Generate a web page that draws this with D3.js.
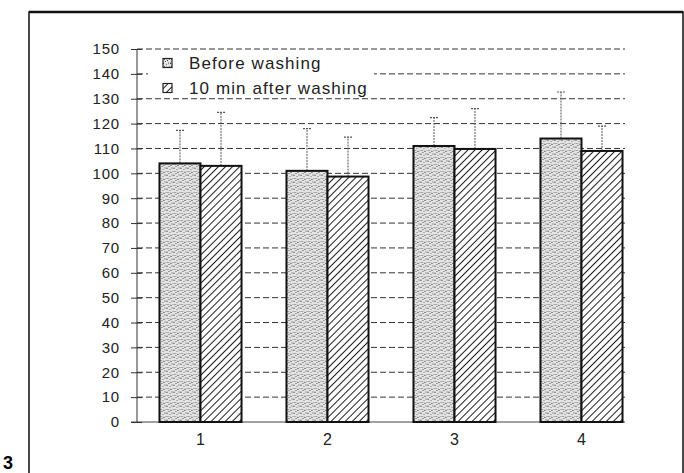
<!DOCTYPE html>
<html>
<head>
<meta charset="utf-8">
<script src="https://cdn.jsdelivr.net/npm/d3@7"></script>
<style>
  body { margin: 0; background: #fff; }
  text { font-family: "Liberation Sans", Arial, sans-serif; fill: #222; }
</style>
</head>
<body>
<svg></svg>
<script>
const width = 684
const height = 473
const groups = ['1', '2', '3', '4']
const seriesNames = ['Before washing', '10 min after washing']
const beforeValues = [104, 101, 111, 114]
const afterValues = [103, 98.7, 109.8, 109]
const beforeErr = [13.3, 17, 11.4, 18.7]
const afterErr = [21.5, 15.9, 16.2, 10]
const yTicks = d3.range(0, 151, 10)

const data = []
groups.forEach((g, i) => {
  data.push({ group: g, series: seriesNames[0], value: beforeValues[i], err: beforeErr[i] })
  data.push({ group: g, series: seriesNames[1], value: afterValues[i], err: afterErr[i] })
})

const svg = d3.select('svg')
  .attr('width', width)
  .attr('height', height)

const defs = svg.append('defs')

// stipple for "before" (fixed dot layout, looks like the printed screen)
const stip = defs.append('pattern')
  .attr('id', 'stipple')
  .attr('patternUnits', 'userSpaceOnUse')
  .attr('width', 7).attr('height', 7)
stip.append('rect').attr('width', 7).attr('height', 7).attr('fill', '#e4e4e4')
const dots = [[0, 0, '#444'], [3, 1, '#777'], [5, 0, '#999'], [1, 3, '#666'], [4, 4, '#333'],
              [6, 3, '#888'], [2, 5, '#555'], [5, 6, '#999'], [0, 6, '#aaa'], [3, 3, '#bbb']]
stip.selectAll('rect.dot')
  .data(dots)
  .join('rect')
  .classed('dot', true)
  .attr('x', d => d[0]).attr('y', d => d[1])
  .attr('width', 1).attr('height', 1)
  .attr('fill', d => d[2])

// hatch for "after"
const hatch = defs.append('pattern')
  .attr('id', 'hatch')
  .attr('patternUnits', 'userSpaceOnUse')
  .attr('width', 5).attr('height', 5)
  .attr('patternTransform', 'rotate(45)')
hatch.append('rect').attr('width', 5).attr('height', 5).attr('fill', '#fff')
hatch.append('line')
  .attr('x1', 0).attr('y1', 0).attr('x2', 0).attr('y2', 5)
  .attr('stroke', '#111').attr('stroke-width', 1.9)

const fills = { 'Before washing': 'url(#stipple)', '10 min after washing': 'url(#hatch)' }

// outer frame
svg.append('rect')
  .attr('x', 29).attr('y', 12)
  .attr('width', 654).attr('height', 480)
  .attr('fill', 'none')
  .attr('stroke', '#111')
  .attr('stroke-width', 1.5)
svg.append('line')
  .attr('x1', 29).attr('x2', 683).attr('y1', 12).attr('y2', 12)
  .attr('stroke', '#111').attr('stroke-width', 2.5)

svg.append('text')
  .attr('x', 3).attr('y', 469)
  .style('font-size', '18px')
  .style('font-weight', 'bold')
  .style('fill', '#000')
  .text('3')

const y = d3.scaleLinear().domain([0, 150]).range([422, 49])
const x = d3.scaleBand()
  .domain(groups)
  .range([137, 645])
  .paddingInner(0.354)
  .paddingOuter(0.177)
const xs = d3.scaleBand().domain(seriesNames).range([0, x.bandwidth()])
const plotRight = 625

// gridlines
svg.selectAll('.grid')
  .data(yTicks.filter(d => d > 0))
  .join('line')
  .classed('grid', true)
  .attr('x1', 137).attr('x2', plotRight)
  .attr('y1', d => y(d)).attr('y2', d => y(d))
  .attr('stroke', '#333')
  .attr('stroke-width', 1)
  .attr('stroke-dasharray', '6,3')

// baseline
svg.append('line')
  .attr('x1', 131).attr('x2', plotRight)
  .attr('y1', y(0)).attr('y2', y(0))
  .attr('stroke', '#444').attr('stroke-width', 1.2)

// y axis
const yAxis = svg.append('g')
  .attr('transform', 'translate(137,0)')
  .call(d3.axisLeft(y).tickValues(yTicks).tickSize(6).tickPadding(11))
yAxis.select('.domain').attr('stroke', '#333').attr('d', `M0,${y(0)}V${y(150)}`)
yAxis.selectAll('.tick line').attr('stroke', '#333').attr('x2', 5).attr('x1', -6)
yAxis.selectAll('.tick text')
  .style('font-size', '15px')
  .style('letter-spacing', '0.8px')
  .style('font-family', '"Liberation Sans", Arial, sans-serif')
  .attr('fill', '#222')

// legend background
svg.append('rect')
  .attr('x', 148).attr('y', 53)
  .attr('width', 226).attr('height', 43)
  .attr('fill', '#fff')

const legend = svg.selectAll('.legend')
  .data(seriesNames)
  .join('g')
  .classed('legend', true)
  .attr('transform', (d, i) => `translate(163, ${63 + i * 25})`)
legend.append('rect')
  .attr('x', 0).attr('y', -4.5)
  .attr('width', 9).attr('height', 9)
  .attr('fill', d => fills[d])
  .attr('stroke', '#222')
  .attr('stroke-width', 1.2)
legend.append('text')
  .attr('x', 26).attr('dy', '0.36em')
  .style('font-size', '17px')
  .style('letter-spacing', '1.1px')
  .text(d => d)

// bars
const bar = svg.selectAll('.bar')
  .data(data)
  .join('g')
  .classed('bar', true)
  .attr('transform', d => `translate(${x(d.group) + xs(d.series)},0)`)

// error bars (upper only)
bar.append('line')
  .attr('x1', xs.bandwidth() / 2).attr('x2', xs.bandwidth() / 2)
  .attr('y1', d => y(d.value)).attr('y2', d => y(d.value + d.err))
  .attr('stroke', '#555')
  .attr('stroke-width', 1)
  .attr('stroke-dasharray', '2,1')
bar.append('line')
  .attr('x1', xs.bandwidth() / 2 - 4).attr('x2', xs.bandwidth() / 2 + 4)
  .attr('y1', d => y(d.value + d.err)).attr('y2', d => y(d.value + d.err))
  .attr('stroke', '#555')
  .attr('stroke-width', 1.2)
  .attr('stroke-dasharray', '2,1')

bar.append('rect')
  .attr('x', 0)
  .attr('y', d => y(d.value))
  .attr('width', xs.bandwidth())
  .attr('height', d => y(0) - y(d.value))
  .attr('fill', d => fills[d.series])
  .attr('stroke', '#111')
  .attr('stroke-width', 2)

// x labels
svg.selectAll('.xlab')
  .data(groups)
  .join('text')
  .classed('xlab', true)
  .attr('x', d => x(d) + x.bandwidth() / 2)
  .attr('y', 445)
  .attr('text-anchor', 'middle')
  .style('font-size', '16px')
  .text(d => d)
</script>
</body>
</html>
